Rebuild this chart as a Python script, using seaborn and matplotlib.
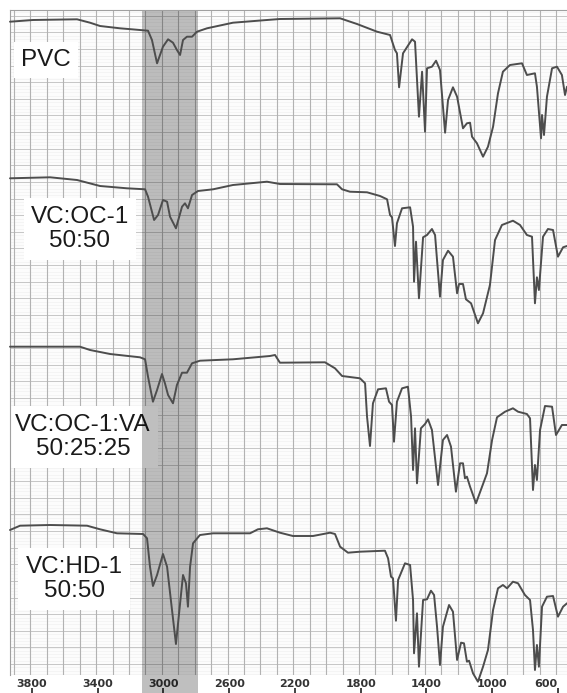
import numpy as np
import pandas as pd
import matplotlib
matplotlib.use("Agg")
import matplotlib.pyplot as plt
import seaborn as sns

# ---------------- data (wavenumber cm-1, transmittance in arbitrary units) ----------------
sample_names = ["PVC", "VC:OC-1\n50:50", "VC:OC-1:VA\n50:25:25", "VC:HD-1\n50:50"]
tick_wavenumbers = [3800, 3400, 3000, 2600, 2200, 1800, 1400, 1000, 600]
tick_labels = ["3800", "3400", "3000", "2600", "2200", "1800", "1400", "1000", "600"]
band_range = [3130, 2790]

pvc_wn = [3934, 3794, 3526, 3447, 3386, 3265, 3143, 3094, 3070, 3039, 3003, 2972, 2942, 2918,
          2899, 2881, 2857, 2826, 2796, 2735, 2577, 2370, 2291, 1925, 1822, 1700, 1621, 1591,
          1579, 1566, 1542, 1487, 1469, 1445, 1426, 1408, 1396, 1366, 1341, 1317, 1286, 1268,
          1238, 1213, 1177, 1153, 1134, 1122, 1092, 1055, 1025, 994, 964, 934, 891, 818, 788,
          739, 727, 702, 696, 684, 666, 635, 605, 575, 556, 544]
pvc_t = [154.3, 156, 156.7, 153.3, 150, 147.7, 146, 145.3, 136, 112.7, 129.3, 136.7, 133.3, 126,
         121, 136, 139.3, 139.3, 144.3, 147.7, 153.3, 156, 157, 157.7, 152, 144.3, 141, 126,
         122.7, 88.7, 122.7, 136.7, 134.3, 59.3, 104.3, 44.3, 107.7, 109.3, 115.3, 106, 43.3, 76,
         88.7, 79.3, 47.7, 52.7, 53.3, 39.3, 32.7, 19.3, 29.3, 49.3, 82.7, 104.3, 111, 112.7, 101,
         102.7, 89.3, 37.7, 61, 41, 79.3, 107.7, 109.3, 101, 81, 89.3]

oc1_wn = [3934, 3690, 3526, 3386, 3222, 3112, 3094, 3057, 3033, 3003, 2978, 2960, 2924, 2887,
          2869, 2851, 2826, 2790, 2698, 2577, 2370, 2291, 1944, 1913, 1865, 1761, 1682, 1639,
          1621, 1609, 1591, 1579, 1548, 1499, 1481, 1475, 1463, 1445, 1420, 1396, 1366, 1347,
          1335, 1317, 1299, 1268, 1238, 1213, 1201, 1177, 1159, 1128, 1086, 1055, 1013, 982,
          940, 873, 830, 788, 757, 739, 727, 715, 690, 660, 629, 599, 568, 544]
oc1_t = [164.7, 165.7, 163, 157, 154.7, 153.7, 146.3, 123, 128, 143, 141.3, 126.3, 114.7, 136.3,
         139.7, 134.7, 148, 152, 153.7, 158, 161.3, 159, 158.7, 153.7, 151.3, 150.7, 147, 143.7,
         128, 125.7, 97, 119.7, 134.7, 135.7, 116.3, 61.3, 101.3, 44.7, 105.7, 108, 114, 108,
         83, 46.3, 83, 92.3, 86.3, 49.7, 59, 59, 43.7, 39.7, 19.7, 29.7, 58, 103,
         118, 122.3, 118, 108, 106.3, 39.7, 65.7, 53, 106.3, 114, 113, 86.3, 95.7, 97]

va_wn = [3934, 3508, 3447, 3325, 3143, 3112, 3094, 3064, 3039, 3009, 2991, 2972, 2942, 2918,
         2887, 2857, 2826, 2778, 2577, 2352, 2321, 2291, 2017, 1956, 1913, 1804, 1773, 1761,
         1743, 1725, 1694, 1646, 1627, 1609, 1597, 1579, 1548, 1512, 1493, 1481, 1469, 1457,
         1433, 1408, 1390, 1366, 1329, 1299, 1274, 1250, 1220, 1195, 1177, 1165, 1153, 1134,
         1098, 1061, 1031, 1000, 970, 921, 873, 842, 788, 769, 751, 739, 727, 708, 678, 635,
         611, 575, 544]
va_t = [162.3, 162.3, 159, 155, 151.7, 149.7, 132.3, 107.3, 119, 135, 125.7, 114, 105.7, 124,
        136.3, 136.3, 145.7, 148.3, 149.7, 153, 154, 146.3, 146.7, 140.7, 133, 130.7, 125.7, 92.3,
        63, 105.7, 119.7, 120.7, 107.3, 104, 67.3, 107.3, 120.7, 122.3, 92.3, 39, 80.7, 25.7,
        80.7, 85, 89.7, 79, 24, 69, 74, 62.3, 17.3, 45.7, 45.7, 30.7, 32.3, 22.3,
        5.7, 22.3, 35.7, 69, 91.7, 97.3, 100.7, 97.3, 95, 90.7, 19, 44, 29, 79, 103, 102.3,
        74, 84, 84]

hd1_wn = [3934, 3873, 3690, 3465, 3386, 3283, 3124, 3100, 3082, 3064, 3039, 3003, 2978, 2948,
          2924, 2905, 2881, 2863, 2851, 2838, 2820, 2778, 2698, 2473, 2425, 2370, 2291, 2212,
          2090, 1986, 1956, 1925, 1877, 1804, 1652, 1633, 1615, 1603, 1585, 1572, 1530, 1499,
          1481, 1475, 1457, 1445, 1420, 1396, 1372, 1353, 1335, 1317, 1299, 1262, 1238, 1213,
          1189, 1171, 1153, 1140, 1116, 1086, 1055, 1025, 994, 964, 934, 909, 873, 842, 800,
          769, 751, 739, 727, 715, 696, 666, 629, 599, 568, 544]
hd1_t = [145, 149.3, 150, 149.3, 145.7, 141.7, 141, 136.7, 108.3, 89, 100, 121, 108.3, 65,
         31, 61.7, 100, 91.7, 68.3, 108.3, 131.7, 140, 141.7, 141.7, 145.7, 146.7, 142.3, 139,
         139, 142.3, 141, 128.3, 122.3, 123.3, 124.3, 116.7, 98.3, 96.7, 54.3, 95, 111.7, 110,
         75, 21.7, 61.7, 8.3, 75, 75.7, 84.3, 80, 48.3, 10, 48.3, 70, 63.3, 15,
         32.3, 31.7, 13.3, 14.3, 1.7, -6.7, 8.3, 25, 65, 86.7, 90, 86.7, 93.3, 91.7, 80,
         75, 45, 5, 30, 8.3, 68.3, 78.3, 79, 58.3, 68.3, 71.7]

# vertical stacking of the four traces (layout)
offsets = [499, 332, 166, 0]

# ---------------- figure ----------------
sns.set_style("white")
plt.rcParams["font.family"] = ["DejaVu Sans"]

fig = plt.figure(figsize=(5.67, 6.93), dpi=100)
ax = fig.add_axes([10 / 567, 18 / 693, 557 / 567, 665 / 693])
ax.set_facecolor("#fcfcfc")

ax.set_xlim(3934, 544)
ax.set_ylim(0, 665)

# chart-paper grid (drawn as background lines)
for gx in np.arange(3910, 540, -100):
    ax.axvline(gx, color="#b2b2b2", lw=0.8, zorder=0.5)
for gy in np.arange(0.9, 665, 3.325):
    ax.axhline(gy, color="#efefef", lw=0.4, zorder=0.3)
for gy in np.arange(10.9, 665, 16.625):
    ax.axhline(gy, color="#c6c6c6", lw=0.7, zorder=0.4)

ax.set_xticks(tick_wavenumbers)
xlabels = ax.set_xticklabels(tick_labels)
xlabels[-1].set_horizontalalignment("right")
ax.set_yticks([])
ax.tick_params(axis="x", which="both", length=0, pad=3, labelsize=8, labelcolor="#333333")
for lab in ax.get_xticklabels():
    lab.set_fontweight("bold")
for s in ["left", "top"]:
    ax.spines[s].set_color("#a0a0a0")
    ax.spines[s].set_linewidth(0.8)
for s in ["right", "bottom"]:
    ax.spines[s].set_visible(False)

# label boxes (drawn under the band)
label_pos = [(3715, 615), (3508, 446), (3490, 238), (3544, 96)]
for name, (lx, ly) in zip(sample_names, label_pos):
    ax.text(lx, ly, name, ha="center", va="center", fontsize=17.5,
            family=["Liberation Sans", "DejaVu Sans"], color="#1a1a1a",
            linespacing=1.15, zorder=2,
            bbox=dict(boxstyle="square,pad=0.3", fc="white", ec="none"))

# highlighted C-H stretching band
ax.axvspan(band_range[0], band_range[1], ymin=-0.028, ymax=1.0, color="black",
           alpha=0.25, lw=0, zorder=2.5, clip_on=False)

# spectra
series = [(pvc_wn, pvc_t), (oc1_wn, oc1_t), (va_wn, va_t), (hd1_wn, hd1_t)]
frames = []
for name, (wn, t), off in zip(sample_names, series, offsets):
    frames.append(pd.DataFrame({"wavenumber": wn, "T": np.array(t) + off, "sample": name}))
df = pd.concat(frames, ignore_index=True)
sns.lineplot(data=df, x="wavenumber", y="T", hue="sample", units="sample",
             estimator=None, sort=False, palette=["#4d4d4d"] * 4, lw=1.4,
             legend=False, ax=ax, zorder=3)
for line in ax.get_lines():
    if line.get_zorder() >= 3:
        line.set_clip_on(False)
ax.set_xlabel("")
ax.set_ylabel("")

# small tick marks under the labels
sec = ax.secondary_xaxis(-0.02)
sec.set_xticks(tick_wavenumbers)
sec.tick_params(axis="x", length=4, width=1.3, color="#333333", labelbottom=False)
sec.spines["bottom"].set_visible(False)

fig.savefig("out.png", dpi=100)
